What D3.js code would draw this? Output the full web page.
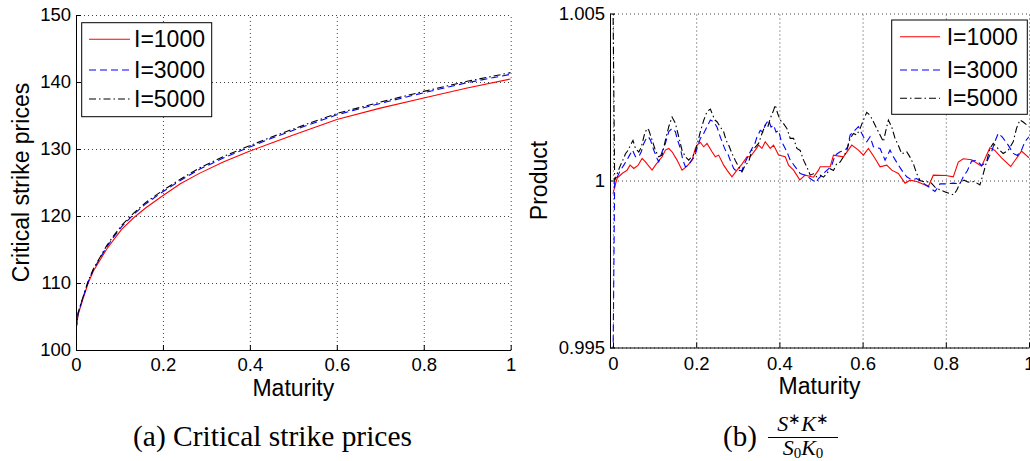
<!DOCTYPE html>
<html><head><meta charset="utf-8">
<script src="https://cdn.jsdelivr.net/npm/d3@7"></script>
<style>body{margin:0;background:#fff} svg{display:block}</style>
</head><body>
<svg id="c" width="1030" height="461"></svg>
<script>
// ---------- data ----------
const maturityTicks = [0, 0.2, 0.4, 0.6, 0.8, 1];
const strikeTicks = [100, 110, 120, 130, 140, 150];
const productTicks = [0.995, 1, 1.005];
const seriesNames = ["I=1000", "I=3000", "I=5000"];

// (a) critical strike prices
const critT     = [0, 0.005, 0.013, 0.028, 0.04, 0.055, 0.07, 0.086, 0.105, 0.132, 0.16, 0.197, 0.24, 0.285, 0.34, 0.396, 0.45, 0.5, 0.6, 0.7, 0.8, 0.9, 1.0];
const critL1000 = [103.0, 105.3, 107.0, 110.0, 111.8, 113.4, 115.0, 116.4, 118.0, 119.7, 121.2, 122.9, 124.8, 126.4, 128.1, 129.6, 130.9, 132.1, 134.4, 136.1, 137.6, 139.1, 140.45];
const critL3000 = [103.2, 105.5, 107.2, 110.2, 112.0, 113.7, 115.3, 116.8, 118.4, 120.2, 121.8, 123.5, 125.3, 127.0, 128.7, 130.2, 131.6, 132.8, 135.1, 136.8, 138.4, 139.9, 141.15];
const critL5000 = [103.0, 105.6, 107.3, 110.3, 112.1, 113.8, 115.5, 117.0, 118.6, 120.4, 122.0, 123.7, 125.5, 127.2, 128.9, 130.4, 131.8, 133.0, 135.3, 137.0, 138.6, 140.1, 141.4];

// (b) product S*K*/(S0K0)
const prodL1000 = [[0,0.9996],[0.004,0.9998],[0.010,1.00007],[0.022,1.00021],[0.034,1.00031],[0.041,1.00046],[0.050,1.00036],[0.060,1.00045],[0.070,1.00066],[0.078,1.00056],[0.094,1.00031],[0.102,1.00046],[0.118,1.00071],[0.126,1.00091],[0.134,1.00096],[0.142,1.00086],[0.154,1.00061],[0.166,1.00031],[0.178,1.00043],[0.190,1.00061],[0.198,1.00096],[0.202,1.00106],[0.210,1.00114],[0.218,1.00101],[0.226,1.00111],[0.238,1.00086],[0.246,1.00071],[0.254,1.00076],[0.266,1.00046],[0.274,1.00031],[0.286,1.00011],[0.298,1.00031],[0.310,1.00049],[0.322,1.00071],[0.330,1.00071],[0.342,1.00091],[0.350,1.00106],[0.358,1.00096],[0.366,1.00116],[0.378,1.00096],[0.386,1.00106],[0.398,1.00076],[0.414,1.00071],[0.422,1.00046],[0.434,1.00031],[0.449,1.00002],[0.462,1.00016],[0.482,1.00010],[0.494,1.00031],[0.498,1.00041],[0.522,1.00041],[0.530,1.00076],[0.554,1.00071],[0.574,1.00106],[0.590,1.00091],[0.602,1.00076],[0.614,1.00096],[0.630,1.00066],[0.642,1.00041],[0.658,1.00046],[0.670,1.00031],[0.686,1.00021],[0.702,0.99992],[0.714,1.00001],[0.730,0.99997],[0.746,0.99989],[0.758,0.99982],[0.770,1.00016],[0.800,1.00015],[0.818,1.00011],[0.830,1.00055],[0.842,1.00065],[0.862,1.00062],[0.886,1.00043],[0.906,1.00098],[0.918,1.00090],[0.934,1.00068],[0.956,1.00042],[0.982,1.00088],[1.0,1.00068]];
const prodL3000 = [[0,0.9945],[0.004,1.0],[0.010,1.0001],[0.018,1.00031],[0.026,1.00046],[0.033,1.0006],[0.040,1.00076],[0.047,1.00091],[0.054,1.00071],[0.062,1.00071],[0.068,1.00086],[0.074,1.00111],[0.080,1.00126],[0.085,1.00131],[0.090,1.00121],[0.098,1.00091],[0.106,1.00066],[0.110,1.00056],[0.118,1.00086],[0.126,1.00111],[0.134,1.00146],[0.142,1.00156],[0.150,1.00146],[0.154,1.00126],[0.162,1.00096],[0.168,1.00061],[0.174,1.00041],[0.182,1.00046],[0.189,1.00061],[0.196,1.0007],[0.202,1.00096],[0.210,1.00126],[0.218,1.00141],[0.226,1.00161],[0.234,1.00181],[0.242,1.00176],[0.250,1.0016],[0.258,1.0013],[0.264,1.0011],[0.270,1.00091],[0.276,1.0008],[0.282,1.0006],[0.290,1.00036],[0.298,1.00026],[0.304,1.0003],[0.310,1.0003],[0.316,1.0005],[0.322,1.00066],[0.334,1.00096],[0.340,1.00106],[0.346,1.0013],[0.354,1.0015],[0.360,1.00145],[0.366,1.00166],[0.374,1.00181],[0.380,1.0016],[0.386,1.00166],[0.392,1.00145],[0.398,1.0015],[0.404,1.0012],[0.414,1.00096],[0.420,1.0008],[0.426,1.00061],[0.438,1.00041],[0.450,1.00021],[0.462,1.00016],[0.474,1.00006],[0.488,0.99994],[0.494,1.00006],[0.506,1.00021],[0.518,1.00035],[0.526,1.00046],[0.534,1.00076],[0.546,1.00086],[0.558,1.00091],[0.564,1.001],[0.570,1.00136],[0.578,1.00146],[0.590,1.00161],[0.602,1.00131],[0.610,1.00116],[0.618,1.00131],[0.626,1.00101],[0.642,1.00096],[0.654,1.00061],[0.666,1.00091],[0.674,1.00071],[0.686,1.00046],[0.694,1.00031],[0.706,1.00011],[0.718,1.00002],[0.730,1.00006],[0.746,0.99992],[0.758,0.99982],[0.774,0.99967],[0.786,0.9999],[0.800,0.9999],[0.818,0.99992],[0.834,0.9999],[0.842,1.00011],[0.852,1.0003],[0.862,1.00058],[0.874,1.0006],[0.886,1.00045],[0.898,1.00055],[0.910,1.00086],[0.918,1.00116],[0.926,1.00141],[0.936,1.0013],[0.950,1.00106],[0.962,1.00081],[0.972,1.00075],[0.982,1.00091],[0.990,1.00116],[1.0,1.00131]];
const prodL5000 = [[0,1.0053],[0.004,1.0],[0.010,1.0002],[0.016,1.0004],[0.022,1.00056],[0.030,1.0008],[0.036,1.0009],[0.042,1.00106],[0.048,1.0012],[0.054,1.00096],[0.062,1.00085],[0.068,1.001],[0.076,1.0014],[0.082,1.00156],[0.086,1.00151],[0.094,1.00121],[0.102,1.0009],[0.110,1.00071],[0.118,1.00076],[0.126,1.00121],[0.134,1.00161],[0.142,1.0019],[0.150,1.00171],[0.158,1.00131],[0.166,1.0009],[0.174,1.00071],[0.182,1.00061],[0.189,1.00071],[0.196,1.0008],[0.202,1.00106],[0.210,1.00146],[0.218,1.0018],[0.226,1.00206],[0.234,1.00214],[0.240,1.00195],[0.245,1.00181],[0.250,1.00176],[0.258,1.0016],[0.266,1.00146],[0.272,1.0012],[0.278,1.00106],[0.286,1.00081],[0.294,1.0006],[0.302,1.00041],[0.310,1.00026],[0.318,1.00046],[0.326,1.00055],[0.334,1.00091],[0.342,1.001],[0.350,1.00111],[0.358,1.0014],[0.366,1.00166],[0.372,1.0016],[0.378,1.00186],[0.386,1.0021],[0.390,1.00226],[0.396,1.002],[0.402,1.00181],[0.410,1.0017],[0.418,1.00156],[0.426,1.00126],[0.434,1.00126],[0.442,1.00096],[0.450,1.0009],[0.458,1.00061],[0.466,1.00041],[0.474,1.00016],[0.482,1.0002],[0.490,1.00011],[0.498,1.00016],[0.506,1.0001],[0.514,1.00021],[0.522,1.00035],[0.530,1.0003],[0.538,1.00051],[0.546,1.00055],[0.554,1.00071],[0.562,1.0009],[0.570,1.00126],[0.578,1.00141],[0.586,1.00136],[0.594,1.00156],[0.602,1.00181],[0.610,1.00204],[0.618,1.00195],[0.626,1.00176],[0.634,1.00156],[0.642,1.00136],[0.650,1.00116],[0.656,1.0015],[0.662,1.00181],[0.670,1.0016],[0.678,1.00126],[0.686,1.00105],[0.694,1.0008],[0.706,1.00086],[0.714,1.0007],[0.722,1.0005],[0.730,1.00021],[0.738,1.0],[0.750,0.99995],[0.762,0.99997],[0.774,0.9998],[0.786,0.99972],[0.800,0.99965],[0.818,0.99957],[0.826,0.9997],[0.834,0.99992],[0.844,1.00001],[0.854,0.99995],[0.868,0.99997],[0.882,0.99987],[0.890,1.0002],[0.898,1.00056],[0.906,1.00096],[0.914,1.00111],[0.926,1.00095],[0.938,1.00081],[0.950,1.0009],[0.962,1.00116],[0.970,1.00156],[0.978,1.00181],[0.986,1.00175],[1.0,1.00161]];

// ---------- drawing ----------
const sans = "'Liberation Sans', Arial, sans-serif";
const serif = "'Liberation Serif', 'Times New Roman', serif";
const svg = d3.select("#c");
svg.append("rect").attr("width", 1030).attr("height", 461).attr("fill", "#fff");

const styles = [
  {color: "#ff0000", dash: null},
  {color: "#0000ff", dash: "7,4"},
  {color: "#000000", dash: "7,3,1.5,3"}
];

function panel(cfg) {
  const g = svg.append("g").style("font-family", sans);
  const x = d3.scaleLinear().domain(cfg.xDomain).range([cfg.left, cfg.right]);
  const y = d3.scaleLinear().domain(cfg.yDomain).range([cfg.bottom, cfg.top]);
  const w = cfg.right - cfg.left, h = cfg.bottom - cfg.top;

  // grid
  g.append("g").attr("transform", `translate(0,${cfg.bottom})`)
    .call(d3.axisBottom(x).tickValues(maturityTicks).tickSize(-h).tickFormat(""))
    .call(s => { s.select(".domain").remove(); s.selectAll("line").attr("stroke", "#444").attr("stroke-dasharray", "1,3"); });
  g.append("g").attr("transform", `translate(${cfg.left},0)`)
    .call(d3.axisLeft(y).tickValues(cfg.yTicks).tickSize(-w).tickFormat(""))
    .call(s => { s.select(".domain").remove(); s.selectAll("line").attr("stroke", "#444").attr("stroke-dasharray", "1,3"); });

  // lines
  const clipId = "clip" + cfg.id;
  svg.append("clipPath").attr("id", clipId).append("rect")
    .attr("x", cfg.left).attr("y", cfg.top).attr("width", w).attr("height", h);
  const line = d3.line().x(d => x(d[0])).y(d => y(d[1]));
  cfg.series.forEach((data, i) => {
    g.append("path").attr("d", line(data)).attr("clip-path", `url(#${clipId})`)
      .attr("fill", "none").attr("stroke", styles[i].color).attr("stroke-width", 1.1)
      .attr("stroke-dasharray", styles[i].dash);
  });

  // axes
  const fmtX = d3.format("~g");
  g.append("g").attr("transform", `translate(0,${cfg.bottom})`)
    .call(d3.axisBottom(x).tickValues(maturityTicks).tickSizeInner(-5).tickSizeOuter(0).tickPadding(cfg.xPad).tickFormat(fmtX))
    .call(s => { s.selectAll("text").attr("font-size", 18.5).attr("fill", "#000").style("font-family", sans);
                 s.selectAll("line,path").attr("stroke", "#000"); });
  g.append("g").attr("transform", `translate(${cfg.left},0)`)
    .call(d3.axisLeft(y).tickValues(cfg.yTicks).tickSizeInner(-5).tickSizeOuter(0).tickPadding(5).tickFormat(cfg.yFmt))
    .call(s => { s.selectAll("text").attr("font-size", 18.5).attr("fill", "#000").style("font-family", sans);
                 s.selectAll("line,path").attr("stroke", "#000"); });

  // axis labels
  g.append("text").attr("x", (cfg.left + cfg.right) / 2).attr("y", cfg.xLabelY)
    .attr("text-anchor", "middle").attr("font-size", 23).text("Maturity");
  g.append("text").attr("transform", `translate(${cfg.yLabelX},${(cfg.top + cfg.bottom) / 2}) rotate(-90)`)
    .attr("text-anchor", "middle").attr("font-size", 23).text(cfg.yLabel);

  // legend
  const L = cfg.legend;
  const lg = g.append("g");
  lg.append("rect").attr("x", L.x0).attr("y", L.y0).attr("width", L.x1 - L.x0).attr("height", L.y1 - L.y0)
    .attr("fill", "#fff").attr("stroke", "#000").attr("stroke-width", 1);
  seriesNames.forEach((name, i) => {
    const ry = L.rows[i];
    lg.append("line").attr("x1", L.lx0).attr("x2", L.lx1).attr("y1", ry).attr("y2", ry)
      .attr("stroke", styles[i].color).attr("stroke-width", 1.1).attr("stroke-dasharray", styles[i].dash);
    lg.append("text").attr("x", L.tx).attr("y", ry + 8).attr("font-size", 23).text(name);
  });
}

panel({
  id: "a", left: 76, right: 510.7, top: 15, bottom: 350,
  xDomain: [0, 1], yDomain: [100, 150], yTicks: strikeTicks, yFmt: d3.format("d"), xPad: 8,
  series: [critL1000, critL3000, critL5000].map(v => critT.map((t, i) => [t, v[i]])),
  xLabelY: 396, yLabelX: 28.5, yLabel: "Critical strike prices",
  legend: {x0: 81.7, x1: 211.7, y0: 22.7, y1: 116.7, lx0: 89, lx1: 130, tx: 134, rows: [39.3, 70, 99]}
});

panel({
  id: "b", left: 610, right: 1029, top: 13.5, bottom: 347.5,
  xDomain: [-0.0072, 1], yDomain: [0.995, 1.005], yTicks: productTicks, yFmt: d3.format("~g"), xPad: 9.5,
  series: [prodL1000, prodL3000, prodL5000],
  xLabelY: 393.5, yLabelX: 546.5, yLabel: "Product",
  legend: {x0: 891.7, x1: 1027.3, y0: 20, y1: 114.3, lx0: 900, lx1: 940, tx: 946.7, rows: [36.7, 70, 98.3]}
});

// captions
svg.append("text").attr("x", 133).attr("y", 446).style("font-family", serif).attr("font-size", 29)
  .attr("textLength", 279).attr("lengthAdjust", "spacingAndGlyphs").text("(a) Critical strike prices");
svg.append("text").attr("x", 723).attr("y", 446).style("font-family", serif).attr("font-size", 29).text("(b)");
const num = svg.append("text").attr("x", 803).attr("y", 431).style("font-family", serif).attr("font-size", 22).attr("text-anchor", "middle");
num.append("tspan").attr("font-style", "italic").text("S");
num.append("tspan").attr("font-size", 15).attr("dy", -7).text("∗");
num.append("tspan").attr("font-style", "italic").attr("dy", 7).text("K");
num.append("tspan").attr("font-size", 15).attr("dy", -7).text("∗");
svg.append("line").attr("x1", 768).attr("x2", 838).attr("y1", 437.5).attr("y2", 437.5).attr("stroke", "#000").attr("stroke-width", 1);
const den = svg.append("text").attr("x", 803).attr("y", 455).style("font-family", serif).attr("font-size", 22).attr("text-anchor", "middle");
den.append("tspan").attr("font-style", "italic").text("S");
den.append("tspan").attr("font-size", 15).attr("dy", 3).text("0");
den.append("tspan").attr("font-style", "italic").attr("dy", -3).text("K");
den.append("tspan").attr("font-size", 15).attr("dy", 3).text("0");
</script>
</body></html>
